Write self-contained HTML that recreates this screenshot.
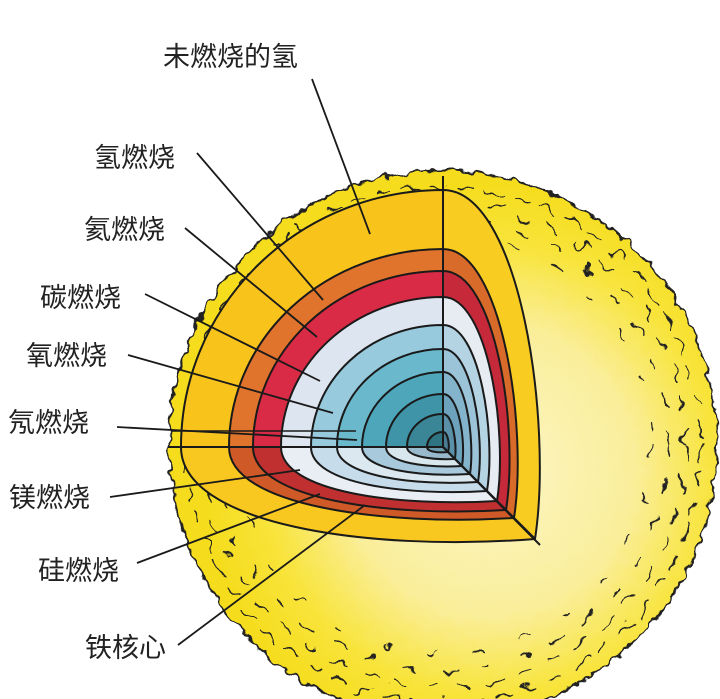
<!DOCTYPE html>
<html><head><meta charset="utf-8"><style>
html,body{margin:0;padding:0;background:#fff;}
svg{display:block;}
text{font-family:"Liberation Sans","Noto Sans CJK SC",sans-serif;font-size:27px;fill:#222;}
</style></head><body>
<svg width="720" height="699" viewBox="0 0 720 699" xmlns="http://www.w3.org/2000/svg">
<defs>
<radialGradient id="sg" cx="490" cy="470" r="290" gradientUnits="userSpaceOnUse">
<stop offset="0" stop-color="#fcf6c8"/>
<stop offset="0.5" stop-color="#faee9a"/>
<stop offset="0.78" stop-color="#f8e43a"/>
<stop offset="1" stop-color="#f5dc1c"/>
</radialGradient>
<filter id="fz" x="-10%" y="-10%" width="120%" height="120%">
<feTurbulence type="fractalNoise" baseFrequency="0.09" numOctaves="2" seed="3"/>
<feDisplacementMap in="SourceGraphic" scale="12" xChannelSelector="R" yChannelSelector="G"/>
</filter>
<filter id="sq" x="-10%" y="-10%" width="120%" height="120%">
<feTurbulence type="fractalNoise" baseFrequency="0.06" numOctaves="2" seed="7"/>
<feDisplacementMap in="SourceGraphic" scale="20" xChannelSelector="R" yChannelSelector="G"/>
</filter>
</defs>
<rect width="720" height="699" fill="#fff"/>
<circle cx="443" cy="445" r="274" fill="url(#sg)" stroke="#222" stroke-width="2" filter="url(#fz)"/>
<g filter="url(#sq)" fill="none" stroke="#222" stroke-width="1.7" stroke-linecap="round">
<circle cx="443" cy="445" r="258" stroke-dasharray="16 12"/>
<circle cx="443" cy="445" r="242" stroke-dasharray="14 18"/>
<circle cx="443" cy="445" r="226" stroke-dasharray="12 26"/>
<circle cx="443" cy="445" r="210" stroke-dasharray="8 40"/>
</g>
<g stroke="#1a1a1a" stroke-width="2" stroke-linejoin="round">
<path d="M443,447 L181,447 A262,257 0 0 1 443,190 Z" fill="#f8c41c"/>
<path d="M443,447 L443,190 C520,190 553,421 535,539 Z" fill="#f9cc22"/>
<path d="M443,447 L181,447 C181,524 366,552 535,539 Z" fill="#f9c820"/>
<path d="M443,447 L229,447 A214,198 0 0 1 443,249 Z" fill="#e0742c"/>
<path d="M443,447 L443,249 C502,249 528,427 514,518 Z" fill="#d86a2a"/>
<path d="M443,447 L229,447 C229,506 384,526 514,518 Z" fill="#cf5a28"/>
<path d="M443,447 L253,447 A190,176 0 0 1 443,271 Z" fill="#d92a46"/>
<path d="M443,447 L443,271 C496,271 519,429 506,510 Z" fill="#c62a3a"/>
<path d="M443,447 L253,447 C253,500 390,517 506,510 Z" fill="#c03030"/>
<path d="M443,447 L281,447 A162,150 0 0 1 443,297 Z" fill="#dde6f0"/>
<path d="M443,447 L443,297 C488,297 508,432 497,501 Z" fill="#e6ecf2"/>
<path d="M443,447 L281,447 C281,492 398,507 497,501 Z" fill="#e8eef4"/>
<path d="M443,447 L311,447 A132,122 0 0 1 443,325 Z" fill="#96cadc"/>
<path d="M443,447 L443,325 C480,325 496,435 487,491 Z" fill="#b4d4e4"/>
<path d="M443,447 L311,447 C311,484 406,496 487,491 Z" fill="#c6dcea"/>
<path d="M443,447 L337,447 A106,98 0 0 1 443,349 Z" fill="#6ab8cc"/>
<path d="M443,447 L443,349 C472,349 485,437 478,482 Z" fill="#9cc4d8"/>
<path d="M443,447 L337,447 C337,476 414,486 478,482 Z" fill="#dce8f0"/>
<path d="M443,447 L362,447 A81,75 0 0 1 443,372 Z" fill="#4ea6ba"/>
<path d="M443,447 L443,372 C466,372 475,440 470,474 Z" fill="#84b4cc"/>
<path d="M443,447 L362,447 C362,470 421,477 470,474 Z" fill="#a8c8dc"/>
<path d="M443,447 L386,447 A57,53 0 0 1 443,394 Z" fill="#3f94a8"/>
<path d="M443,447 L443,394 C459,394 466,442 462,466 Z" fill="#6ca2bc"/>
<path d="M443,447 L386,447 C386,463 427,468 462,466 Z" fill="#d8e6ee"/>
<path d="M443,447 L407,447 A36,33 0 0 1 443,414 Z" fill="#3a8696"/>
<path d="M443,447 L443,414 C453,414 457,444 455,459 Z" fill="#5a90a8"/>
<path d="M443,447 L407,447 C407,457 433,460 455,459 Z" fill="#98b8cc"/>
<path d="M443,447 L427,447 A16,15 0 0 1 443,432 Z" fill="#2f7482"/>
<path d="M443,447 L443,432 C448,432 450,446 448,452 Z" fill="#4a7c94"/>
<path d="M443,447 L427,447 C427,452 439,453 448,452 Z" fill="#6a98ac"/>
</g>
<g stroke="#1a1a1a" stroke-width="2">
<line x1="443" y1="176" x2="443" y2="447"/>
<line x1="168" y1="447" x2="443" y2="447"/>
<line x1="443" y1="447" x2="540" y2="545"/>
<line x1="172" y1="431" x2="356" y2="431" stroke-width="1.5"/>
</g>
<g stroke="#1a1a1a" stroke-width="1.8" fill="none">
<line x1="312" y1="79" x2="370" y2="234"/>
<line x1="197" y1="153" x2="323" y2="300"/>
<line x1="185" y1="228" x2="317" y2="337"/>
<line x1="145" y1="294" x2="320" y2="381"/>
<line x1="128" y1="355" x2="333" y2="413"/>
<line x1="117" y1="427" x2="357" y2="440"/>
<line x1="110" y1="497" x2="300" y2="470"/>
<line x1="137" y1="563" x2="320" y2="494"/>
<line x1="178" y1="645" x2="365" y2="505"/>
</g>
<text x="163" y="66">未燃烧的氢</text>
<text x="94" y="167">氢燃烧</text>
<text x="84" y="239">氦燃烧</text>
<text x="40" y="307">碳燃烧</text>
<text x="26" y="365">氧燃烧</text>
<text x="8" y="432">氖燃烧</text>
<text x="9" y="507">镁燃烧</text>
<text x="38" y="580">硅燃烧</text>
<text x="85" y="657">铁核心</text>
</svg>
</body></html>
